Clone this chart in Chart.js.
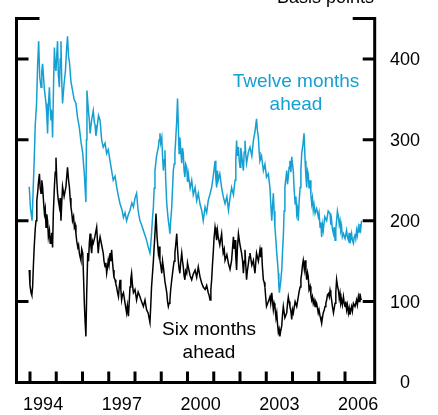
<!DOCTYPE html>
<html>
<head>
<meta charset="utf-8">
<script src="https://cdn.jsdelivr.net/npm/chart.js@4.4.1/dist/chart.umd.min.js"></script>
<style>
  html, body { margin: 0; padding: 0; background: #fff; overflow: hidden; }
  canvas { display: block; }
</style>
</head>
<body>
<canvas id="chart" width="438" height="415"></canvas>
<script>
// [year, basis points]
const twelveAhead = [
  [1993.97, 242], [1994.02, 215], [1994.08, 200], [1994.12, 238], [1994.16, 274], [1994.20, 318],
  [1994.25, 345], [1994.29, 392], [1994.33, 422], [1994.37, 378], [1994.42, 365], [1994.45, 385],
  [1994.48, 394], [1994.55, 362], [1994.61, 345], [1994.64, 330], [1994.67, 308], [1994.70, 342],
  [1994.74, 365], [1994.77, 338], [1994.80, 324], [1994.83, 336], [1994.86, 303], [1994.90, 372],
  [1994.93, 414], [1994.96, 392], [1994.99, 385], [1995.02, 405], [1995.05, 422], [1995.08, 380],
  [1995.12, 365], [1995.15, 400], [1995.18, 422], [1995.21, 372], [1995.24, 345], [1995.30, 370],
  [1995.35, 385], [1995.39, 410], [1995.43, 428], [1995.47, 402], [1995.50, 397], [1995.56, 372],
  [1995.62, 361], [1995.68, 350], [1995.75, 345], [1995.81, 328], [1995.88, 315], [1995.94, 298],
  [1996.01, 283], [1996.04, 270], [1996.07, 258], [1996.10, 240], [1996.13, 223], [1996.15, 300],
  [1996.17, 361], [1996.22, 338], [1996.26, 324], [1996.29, 308], [1996.35, 325], [1996.41, 336],
  [1996.45, 322], [1996.48, 318], [1996.51, 305], [1996.54, 311], [1996.61, 330], [1996.67, 324],
  [1996.73, 300], [1996.79, 291], [1996.86, 296], [1996.92, 283], [1996.98, 288], [1997.05, 274],
  [1997.11, 262], [1997.17, 250], [1997.24, 255], [1997.30, 242], [1997.37, 230], [1997.43, 221],
  [1997.50, 214], [1997.56, 204], [1997.62, 210], [1997.68, 200], [1997.75, 208], [1997.81, 213],
  [1997.88, 222], [1997.94, 217], [1998.00, 228], [1998.06, 234], [1998.12, 212], [1998.19, 200],
  [1998.25, 195], [1998.32, 188], [1998.38, 182], [1998.44, 176], [1998.50, 168], [1998.57, 160],
  [1998.60, 170], [1998.63, 184], [1998.66, 200], [1998.70, 217], [1998.73, 240], [1998.76, 262],
  [1998.82, 280], [1998.89, 291], [1998.92, 300], [1998.95, 308], [1998.98, 296], [1999.02, 303],
  [1999.05, 280], [1999.08, 262], [1999.11, 275], [1999.14, 287], [1999.17, 250], [1999.21, 221],
  [1999.24, 210], [1999.27, 200], [1999.30, 193], [1999.33, 184], [1999.36, 200], [1999.40, 217],
  [1999.43, 240], [1999.46, 262], [1999.49, 270], [1999.52, 283], [1999.55, 300], [1999.59, 324],
  [1999.62, 351], [1999.68, 283], [1999.71, 303], [1999.78, 271], [1999.81, 290], [1999.84, 283],
  [1999.87, 262], [1999.90, 254], [1999.93, 270], [1999.97, 266], [2000.00, 248], [2000.03, 258],
  [2000.10, 240], [2000.16, 250], [2000.22, 232], [2000.29, 241], [2000.35, 225], [2000.41, 234],
  [2000.48, 220], [2000.54, 213], [2000.60, 200], [2000.67, 217], [2000.73, 210], [2000.79, 225],
  [2000.85, 232], [2000.92, 241], [2000.98, 255], [2001.05, 274], [2001.08, 252], [2001.11, 241],
  [2001.14, 262], [2001.17, 250], [2001.23, 258], [2001.30, 241], [2001.36, 230], [2001.43, 221],
  [2001.50, 230], [2001.56, 213], [2001.62, 228], [2001.68, 241], [2001.75, 232], [2001.81, 250],
  [2001.84, 275], [2001.87, 299], [2001.90, 280], [2001.94, 291], [2001.97, 275], [2002.00, 266],
  [2002.03, 290], [2002.06, 283], [2002.10, 270], [2002.13, 262], [2002.16, 285], [2002.19, 299],
  [2002.22, 282], [2002.25, 271], [2002.32, 285], [2002.38, 291], [2002.45, 280], [2002.51, 299],
  [2002.57, 310], [2002.63, 326], [2002.66, 312], [2002.70, 303], [2002.73, 285], [2002.76, 274],
  [2002.82, 280], [2002.89, 262], [2002.95, 270], [2003.01, 254], [2003.08, 258], [2003.14, 241],
  [2003.17, 222], [2003.21, 200], [2003.24, 218], [2003.27, 234], [2003.30, 212], [2003.33, 192],
  [2003.37, 175], [2003.40, 160], [2003.43, 148], [2003.46, 135], [2003.48, 120], [2003.50, 111],
  [2003.55, 125], [2003.59, 139], [2003.62, 162], [2003.65, 180], [2003.68, 212], [2003.71, 241],
  [2003.74, 250], [2003.78, 262], [2003.81, 245], [2003.84, 254], [2003.87, 266], [2003.90, 274],
  [2003.94, 260], [2003.97, 279], [2004.00, 270], [2004.03, 262], [2004.06, 240], [2004.10, 221],
  [2004.13, 230], [2004.16, 209], [2004.19, 215], [2004.22, 200], [2004.25, 222], [2004.29, 241],
  [2004.32, 262], [2004.35, 283], [2004.40, 295], [2004.44, 308], [2004.48, 274], [2004.51, 255],
  [2004.54, 241], [2004.57, 262], [2004.60, 258], [2004.63, 240], [2004.67, 250], [2004.70, 232],
  [2004.73, 221], [2004.76, 228], [2004.79, 213], [2004.82, 220], [2004.86, 209], [2004.92, 215],
  [2004.98, 205], [2005.01, 210], [2005.05, 192], [2005.08, 198], [2005.11, 180], [2005.14, 195],
  [2005.17, 188], [2005.23, 205], [2005.30, 200], [2005.36, 212], [2005.43, 209], [2005.46, 195],
  [2005.49, 200], [2005.52, 190], [2005.56, 184], [2005.59, 192], [2005.62, 176], [2005.65, 190],
  [2005.68, 200], [2005.71, 212], [2005.75, 205], [2005.78, 195], [2005.81, 200], [2005.84, 188],
  [2005.87, 192], [2005.90, 180], [2005.94, 184], [2006.00, 178], [2006.06, 188], [2006.09, 180],
  [2006.13, 176], [2006.16, 185], [2006.19, 172], [2006.22, 178], [2006.25, 184], [2006.28, 176],
  [2006.32, 172], [2006.35, 180], [2006.38, 184], [2006.41, 178], [2006.44, 188], [2006.47, 182],
  [2006.51, 192], [2006.54, 186], [2006.57, 196], [2006.60, 190], [2006.63, 200]
];

const sixAhead = [
  [1993.97, 139], [1994.00, 120], [1994.04, 111], [1994.07, 108], [1994.10, 118], [1994.13, 145],
  [1994.16, 167], [1994.20, 190], [1994.23, 200], [1994.26, 225], [1994.29, 234], [1994.33, 250],
  [1994.36, 258], [1994.39, 240], [1994.42, 234], [1994.45, 250], [1994.48, 242], [1994.52, 222],
  [1994.55, 209], [1994.58, 215], [1994.61, 192], [1994.64, 208], [1994.67, 200], [1994.70, 180],
  [1994.74, 188], [1994.77, 172], [1994.80, 176], [1994.83, 185], [1994.86, 167], [1994.89, 210],
  [1994.93, 242], [1994.96, 260], [1994.99, 278], [1995.02, 250], [1995.05, 234], [1995.08, 225],
  [1995.12, 217], [1995.15, 228], [1995.18, 200], [1995.21, 222], [1995.24, 242], [1995.30, 230],
  [1995.37, 242], [1995.40, 255], [1995.43, 266], [1995.47, 250], [1995.50, 242], [1995.53, 228],
  [1995.56, 217], [1995.59, 210], [1995.62, 200], [1995.66, 205], [1995.69, 192], [1995.72, 195],
  [1995.75, 184], [1995.78, 175], [1995.82, 167], [1995.85, 170], [1995.88, 160], [1995.91, 155],
  [1995.94, 151], [1995.97, 165], [1996.01, 160], [1996.04, 130], [1996.07, 98], [1996.10, 75],
  [1996.13, 57], [1996.16, 110], [1996.20, 160], [1996.23, 150], [1996.26, 172], [1996.29, 184],
  [1996.32, 168], [1996.35, 160], [1996.38, 175], [1996.41, 172], [1996.47, 180], [1996.54, 192],
  [1996.57, 175], [1996.60, 160], [1996.63, 172], [1996.67, 180], [1996.73, 170], [1996.79, 160],
  [1996.82, 150], [1996.86, 143], [1996.89, 148], [1996.92, 135], [1996.95, 142], [1996.98, 151],
  [1997.01, 145], [1997.05, 160], [1997.08, 150], [1997.11, 164], [1997.14, 150], [1997.17, 139],
  [1997.20, 130], [1997.24, 127], [1997.27, 122], [1997.30, 118], [1997.33, 112], [1997.37, 106],
  [1997.40, 118], [1997.43, 127], [1997.46, 115], [1997.49, 102], [1997.52, 108], [1997.56, 111],
  [1997.62, 98], [1997.68, 86], [1997.71, 95], [1997.75, 82], [1997.78, 100], [1997.81, 118],
  [1997.84, 128], [1997.87, 135], [1997.90, 122], [1997.94, 111], [1998.00, 115], [1998.06, 102],
  [1998.12, 112], [1998.19, 106], [1998.25, 100], [1998.32, 94], [1998.38, 102], [1998.44, 90],
  [1998.50, 86], [1998.57, 74], [1998.60, 95], [1998.63, 118], [1998.70, 150], [1998.76, 184],
  [1998.80, 209], [1998.84, 180], [1998.89, 160], [1998.92, 168], [1998.95, 151], [1998.98, 145],
  [1999.02, 135], [1999.05, 150], [1999.08, 143], [1999.14, 125], [1999.21, 111], [1999.24, 100],
  [1999.27, 94], [1999.30, 98], [1999.33, 102], [1999.36, 115], [1999.40, 127], [1999.43, 135],
  [1999.46, 143], [1999.49, 150], [1999.52, 160], [1999.55, 170], [1999.59, 184], [1999.62, 165],
  [1999.65, 151], [1999.68, 140], [1999.71, 135], [1999.74, 148], [1999.78, 160], [1999.81, 150],
  [1999.84, 143], [1999.87, 132], [1999.90, 127], [1999.93, 138], [1999.97, 135], [2000.00, 148],
  [2000.03, 143], [2000.10, 132], [2000.16, 127], [2000.22, 134], [2000.29, 139], [2000.35, 130],
  [2000.41, 143], [2000.48, 130], [2000.54, 123], [2000.60, 118], [2000.67, 115], [2000.73, 120],
  [2000.79, 111], [2000.82, 108], [2000.86, 102], [2000.89, 115], [2000.92, 127], [2000.95, 145],
  [2000.98, 160], [2001.01, 178], [2001.05, 192], [2001.08, 185], [2001.11, 176], [2001.14, 188],
  [2001.17, 180], [2001.23, 170], [2001.30, 184], [2001.33, 170], [2001.36, 160], [2001.40, 165],
  [2001.43, 151], [2001.50, 158], [2001.56, 147], [2001.62, 140], [2001.68, 151], [2001.72, 168],
  [2001.75, 180], [2001.78, 165], [2001.81, 176], [2001.84, 155], [2001.87, 139], [2001.90, 165],
  [2001.94, 184], [2002.00, 170], [2002.06, 160], [2002.10, 150], [2002.13, 135], [2002.16, 150],
  [2002.19, 164], [2002.22, 145], [2002.25, 127], [2002.28, 138], [2002.32, 147], [2002.35, 155],
  [2002.38, 160], [2002.45, 145], [2002.51, 151], [2002.54, 142], [2002.57, 135], [2002.60, 148],
  [2002.63, 160], [2002.70, 150], [2002.76, 164], [2002.79, 155], [2002.82, 167], [2002.85, 145],
  [2002.89, 127], [2002.92, 124], [2002.95, 118], [2002.98, 105], [2003.01, 94], [2003.08, 100],
  [2003.14, 106], [2003.17, 98], [2003.21, 111], [2003.24, 100], [2003.27, 90], [2003.30, 98],
  [2003.33, 94], [2003.37, 80], [2003.40, 86], [2003.43, 72], [2003.46, 62], [2003.49, 66],
  [2003.52, 57], [2003.55, 64], [2003.59, 70], [2003.62, 84], [2003.65, 94], [2003.71, 80],
  [2003.78, 86], [2003.81, 98], [2003.84, 106], [2003.87, 100], [2003.90, 94], [2003.94, 88],
  [2003.97, 78], [2004.00, 90], [2004.03, 86], [2004.10, 100], [2004.16, 94], [2004.19, 100],
  [2004.22, 106], [2004.25, 112], [2004.29, 118], [2004.32, 128], [2004.35, 135], [2004.38, 145],
  [2004.41, 151], [2004.45, 140], [2004.48, 151], [2004.51, 138], [2004.54, 127], [2004.57, 136],
  [2004.60, 131], [2004.63, 115], [2004.67, 119], [2004.70, 108], [2004.73, 102], [2004.76, 106],
  [2004.79, 98], [2004.82, 102], [2004.86, 94], [2004.89, 100], [2004.92, 98], [2004.95, 92],
  [2004.98, 86], [2005.01, 90], [2005.05, 82], [2005.08, 78], [2005.11, 73], [2005.14, 80],
  [2005.17, 86], [2005.21, 90], [2005.24, 94], [2005.27, 98], [2005.30, 102], [2005.33, 108],
  [2005.37, 110], [2005.40, 106], [2005.43, 114], [2005.46, 108], [2005.49, 102], [2005.52, 94],
  [2005.56, 86], [2005.59, 92], [2005.62, 98], [2005.65, 112], [2005.68, 127], [2005.71, 120],
  [2005.75, 114], [2005.78, 104], [2005.81, 110], [2005.84, 98], [2005.87, 102], [2005.90, 96],
  [2005.94, 106], [2005.97, 98], [2006.00, 94], [2006.03, 100], [2006.06, 90], [2006.09, 96],
  [2006.13, 86], [2006.16, 92], [2006.19, 84], [2006.22, 90], [2006.25, 94], [2006.28, 88],
  [2006.32, 98], [2006.38, 94], [2006.44, 102], [2006.47, 96], [2006.51, 106], [2006.54, 100],
  [2006.57, 110], [2006.60, 104], [2006.63, 102]
];

const yTicks = [0, 100, 200, 300, 400];
const tickYears = [1994, 1995, 1996, 1997, 1998, 1999, 2000, 2001, 2002, 2003, 2004, 2005, 2006];
const yearLabels = [1994, 1997, 2000, 2003, 2006];

const BLUE = '#14a0d2';
const FONT = '"Liberation Sans", Arial, sans-serif';

function toPoints(rows) {
  return rows.map(r => ({x: r[0], y: r[1]}));
}

// bracket frame, inward ticks, labels and the two captions
const framePlugin = {
  id: 'frame',
  afterDraw(chart) {
    const ctx = chart.ctx;
    const xs = chart.scales.x;
    const ys = chart.scales.y;
    const a = chart.chartArea;
    ctx.save();
    ctx.strokeStyle = '#000';
    ctx.lineWidth = 3;
    ctx.beginPath();
    ctx.moveTo(a.left + 23, a.top);
    ctx.lineTo(a.left, a.top);
    ctx.lineTo(a.left, a.bottom);
    ctx.lineTo(a.right, a.bottom);
    ctx.lineTo(a.right, a.top);
    ctx.lineTo(a.right - 22, a.top);
    ctx.stroke();

    ctx.beginPath();
    yTicks.forEach(v => {
      if (v === 0) return;
      const y = ys.getPixelForValue(v);
      ctx.moveTo(a.left, y);
      ctx.lineTo(a.left + 12, y);
      ctx.moveTo(a.right - 12, y);
      ctx.lineTo(a.right, y);
    });
    tickYears.forEach(yr => {
      const x = xs.getPixelForValue(yr);
      ctx.moveTo(x, a.bottom);
      ctx.lineTo(x, a.bottom - 11);
    });
    ctx.stroke();

    ctx.fillStyle = '#000';
    ctx.font = '18px ' + FONT;
    ctx.textAlign = 'center';
    ctx.textBaseline = 'middle';
    yTicks.forEach(v => {
      ctx.fillText(String(v), 405, ys.getPixelForValue(v) + 1);
    });
    yearLabels.forEach(yr => {
      ctx.fillText(String(yr), xs.getPixelForValue(yr + 0.5), 405);
    });

    ctx.textAlign = 'right';
    ctx.textBaseline = 'alphabetic';
    ctx.fillText('Basis points', 374, 3);

    ctx.textAlign = 'center';
    ctx.font = '19px ' + FONT;
    ctx.fillStyle = BLUE;
    ctx.fillText('Twelve months', 296, 87);
    ctx.fillText('ahead', 296, 110);
    ctx.fillStyle = '#000';
    ctx.fillText('Six months', 209, 335);
    ctx.fillText('ahead', 209, 358);
    ctx.restore();
  }
};

const ctx = document.getElementById('chart').getContext('2d');
const chart = new Chart(ctx, {
  type: 'scatter',
  data: {
    datasets: [
      {
        label: 'Twelve months ahead',
        data: toPoints(twelveAhead),
        showLine: true,
        borderColor: BLUE,
        borderWidth: 1.5,
        pointRadius: 0,
        tension: 0
      },
      {
        label: 'Six months ahead',
        data: toPoints(sixAhead),
        showLine: true,
        borderColor: '#000',
        borderWidth: 1.5,
        pointRadius: 0,
        tension: 0
      }
    ]
  },
  options: {
    responsive: false,
    animation: false,
    devicePixelRatio: 1,
    layout: {
      padding: {left: 16.5, right: 63.3, top: 18.5, bottom: 32.5}
    },
    plugins: {
      legend: {display: false},
      tooltip: {enabled: false}
    },
    scales: {
      x: {type: 'linear', display: false, min: 1993.486, max: 2007.131},
      y: {type: 'linear', display: false, min: 0, max: 450}
    }
  },
  plugins: [framePlugin]
});
</script>
</body>
</html>
